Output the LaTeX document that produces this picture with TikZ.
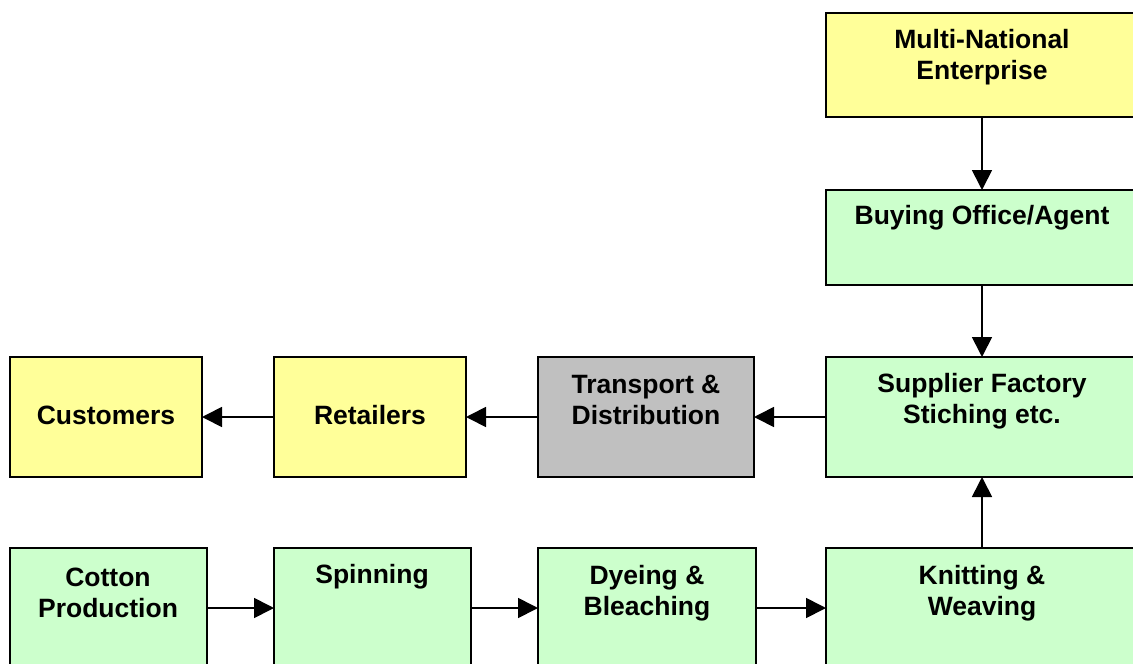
\documentclass[tikz,border=0pt]{standalone}
\usepackage{fontspec}
\setmainfont{Liberation Sans}
\usetikzlibrary{arrows.meta}
\definecolor{paleyellow}{HTML}{FFFF99}
\definecolor{palegreen}{HTML}{CCFFCC}
\definecolor{midgray}{HTML}{C0C0C0}
\tikzset{
  box/.style={draw=black, line width=1.7pt, inner sep=0pt},
  yellowbox/.style={box, fill=paleyellow},
  greenbox/.style={box, fill=palegreen},
  graybox/.style={box, fill=midgray},
  txt/.style={font=\fontsize{26.5}{30.5}\selectfont\bfseries, align=center, inner sep=0pt},
  flow/.style={line width=1.7pt, -{Triangle[length=20pt,width=20pt]}}
}
\begin{document}
\begin{tikzpicture}[x=1pt,y=-1pt]
  \useasboundingbox (0,0) rectangle (1133,664);
  \clip (0,0) rectangle (1133,664);
  % boxes: corner coordinates
  \path[yellowbox] (826,13) rectangle (1138,117) node[midway] (mne) {};
  \path[greenbox]  (826,190) rectangle (1138,285) node[midway] (buy) {};
  \path[greenbox]  (826,357) rectangle (1138,477) node[midway] (sup) {};
  \path[graybox]   (538,357) rectangle (754,477) node[midway] (tra) {};
  \path[yellowbox] (274,357) rectangle (466,477) node[midway] (ret) {};
  \path[yellowbox] (10,357) rectangle (202,477) node[midway] (cus) {};
  \path[greenbox]  (10,548) rectangle (207,670) node[midway] (cot) {};
  \path[greenbox]  (274,548) rectangle (471,670) node[midway] (spi) {};
  \path[greenbox]  (538,548) rectangle (756,670) node[midway] (dye) {};
  \path[greenbox]  (826,548) rectangle (1138,670) node[midway] (kni) {};
  % anchor points on the box edges
  \coordinate (mneS) at (982,117);
  \coordinate (buyN) at (982,190);
  \coordinate (buyS) at (982,285);
  \coordinate (supN) at (982,357);
  \coordinate (supS) at (982,477);
  \coordinate (supW) at (826,417);
  \coordinate (traE) at (754,417);
  \coordinate (traW) at (538,417);
  \coordinate (retE) at (466,417);
  \coordinate (retW) at (274,417);
  \coordinate (cusE) at (202,417);
  \coordinate (cotE) at (207,608);
  \coordinate (spiW) at (274,608);
  \coordinate (spiE) at (471,608);
  \coordinate (dyeW) at (538,608);
  \coordinate (dyeE) at (756,608);
  \coordinate (kniW) at (826,608);
  \coordinate (kniN) at (982,548);
  % labels
  \node[txt] (mnet) at (982,57) {Multi-National\\Enterprise};
  \node[txt] (buyt) at (982,218) {Buying Office/Agent};
  \node[txt] (supt) at (982,401) {Supplier Factory\\Stiching etc.};
  \node[txt] (trat) at (646,400) {Transport \&\\Distribution};
  \node[txt] (rett) at (370,415) {Retailers};
  \node[txt] (cust) at (106,415) {Customers};
  \node[txt] (cott) at (108,593) {Cotton\\Production};
  \node[txt] (spit) at (372,577) {Spinning};
  \node[txt] (dyet) at (647,593) {Dyeing \&\\Bleaching};
  \node[txt] (knit) at (982,593) {Knitting \&\\Weaving};
  % connectors
  \draw[flow] (mneS) -- (buyN);
  \draw[flow] (buyS) -- (supN);
  \draw[flow] (kniN) -- (supS);
  \draw[flow] (supW) -- (traE);
  \draw[flow] (traW) -- (retE);
  \draw[flow] (retW) -- (cusE);
  \draw[flow] (cotE) -- (spiW);
  \draw[flow] (spiE) -- (dyeW);
  \draw[flow] (dyeE) -- (kniW);
\end{tikzpicture}
\end{document}
